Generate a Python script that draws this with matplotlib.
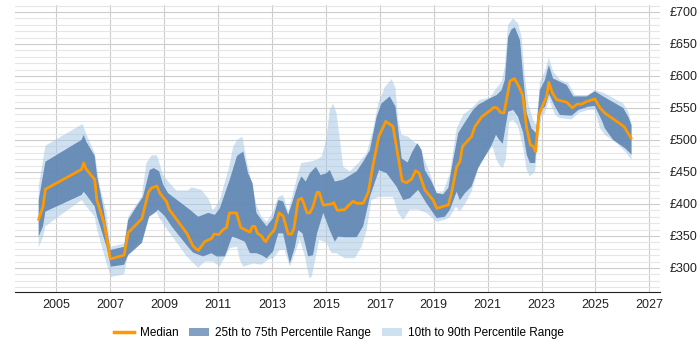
import numpy as np
import matplotlib
matplotlib.use('Agg')
import matplotlib.pyplot as plt
from matplotlib.patches import Patch
from matplotlib.lines import Line2D
from matplotlib.ticker import MultipleLocator, FuncFormatter

plt.rcParams['font.family'] = ['Liberation Sans', 'DejaVu Sans']

# median daily rate
median_years = [2004.34, 2004.50, 2004.59, 2005.93, 2006.01, 2006.09, 2006.42, 2006.50, 2006.77, 2007.00,
                2007.51, 2007.66, 2008.17, 2008.41, 2008.53, 2008.73, 2008.83, 2009.08, 2009.19, 2009.84,
                2010.07, 2010.26, 2010.50, 2010.75, 2010.85, 2011.02, 2011.16, 2011.31, 2011.42, 2011.68,
                2011.84, 2012.18, 2012.27, 2012.36, 2012.46, 2012.61, 2012.71, 2012.77, 2012.89, 2013.08,
                2013.26, 2013.41, 2013.60, 2013.72, 2013.81, 2013.97, 2014.09, 2014.15, 2014.30, 2014.40,
                2014.52, 2014.67, 2014.75, 2014.90, 2015.21, 2015.29, 2015.42, 2015.70, 2015.82, 2016.01,
                2016.14, 2016.38, 2016.57, 2016.75, 2016.96, 2017.22, 2017.49, 2017.83, 2017.99, 2018.18,
                2018.33, 2018.46, 2018.67, 2018.98, 2019.11, 2019.41, 2019.54, 2019.66, 2019.85, 2019.97,
                2020.07, 2020.40, 2020.53, 2020.78, 2021.06, 2021.24, 2021.35, 2021.48, 2021.61, 2021.83,
                2021.99, 2022.13, 2022.30, 2022.45, 2022.59, 2022.69, 2022.78, 2022.90, 2023.19, 2023.27,
                2023.41, 2023.56, 2023.93, 2024.15, 2024.32, 2024.49, 2024.67, 2024.98, 2025.17, 2025.35,
                2026.06, 2026.32]
median = [376, 396, 423, 454, 464, 455, 438, 406, 370, 314,
          320, 355, 377, 418, 425, 428, 417, 404, 391, 354,
          334, 327, 341, 346, 353, 352, 359, 363, 386, 386,
          363, 356, 365, 365, 354, 350, 343, 341, 350, 359,
          386, 381, 353, 353, 361, 406, 409, 404, 386, 386,
          396, 418, 418, 398, 400, 402, 390, 391, 397, 404,
          401, 401, 418, 461, 505, 529, 521, 436, 433, 439,
          452, 448, 422, 406, 393, 397, 398, 417, 458, 466,
          490, 505, 521, 536, 545, 551, 550, 543, 542, 592,
          596, 586, 570, 518, 492, 490, 482, 539, 568, 590,
          573, 563, 559, 550, 556, 556, 560, 564, 550, 542,
          521, 503]

# 25th percentile / 75th percentile
p75_years = [2004.34, 2004.59, 2005.93, 2006.01, 2006.11, 2006.42, 2006.51, 2006.73, 2007.00, 2007.51,
             2007.66, 2007.97, 2008.21, 2008.46, 2008.61, 2008.81, 2008.96, 2009.14, 2009.95, 2010.26,
             2010.63, 2010.88, 2011.06, 2011.43, 2011.70, 2011.93, 2012.11, 2012.28, 2012.42, 2012.61,
             2012.80, 2013.04, 2013.23, 2013.41, 2013.60, 2013.78, 2013.97, 2014.09, 2014.25, 2014.40,
             2014.63, 2014.80, 2015.02, 2015.14, 2015.33, 2015.64, 2016.14, 2016.38, 2016.63, 2016.88,
             2017.06, 2017.37, 2017.58, 2017.81, 2018.03, 2018.21, 2018.39, 2018.55, 2018.67, 2018.92,
             2019.11, 2019.35, 2019.54, 2019.72, 2019.91, 2020.09, 2020.46, 2020.65, 2021.08, 2021.33,
             2021.52, 2021.64, 2021.76, 2021.89, 2022.01, 2022.20, 2022.32, 2022.45, 2022.63, 2022.79,
             2022.94, 2023.13, 2023.27, 2023.43, 2023.68, 2023.93, 2024.18, 2024.43, 2024.67, 2024.98,
             2025.29, 2026.03, 2026.22, 2026.34]
p75 = [406, 466, 500, 508, 497, 475, 443, 396, 328, 333,
       375, 396, 411, 453, 456, 451, 430, 417, 391, 380,
       386, 383, 393, 438, 475, 482, 448, 432, 386, 375,
       365, 378, 406, 404, 383, 406, 432, 443, 435, 448,
       458, 445, 448, 453, 435, 438, 451, 466, 484, 536,
       557, 568, 552, 471, 465, 482, 495, 484, 453, 435,
       417, 415, 425, 469, 511, 523, 547, 555, 565, 570,
       578, 594, 661, 673, 676, 656, 599, 542, 518, 511,
       578, 594, 617, 596, 591, 586, 568, 568, 568, 576,
       568, 550, 536, 523]

p25_years = [2004.34, 2004.50, 2004.59, 2005.93, 2006.01, 2006.11, 2006.42, 2006.51, 2006.86, 2007.02,
             2007.51, 2007.66, 2008.17, 2008.44, 2008.65, 2008.77, 2009.02, 2009.27, 2009.88, 2010.07,
             2010.44, 2010.75, 2010.94, 2011.25, 2011.52, 2011.72, 2011.99, 2012.18, 2012.42, 2012.61,
             2012.80, 2013.04, 2013.23, 2013.41, 2013.66, 2013.85, 2013.97, 2014.13, 2014.34, 2014.52,
             2014.67, 2014.90, 2015.14, 2015.33, 2015.45, 2015.70, 2016.14, 2016.38, 2016.63, 2016.97,
             2017.25, 2017.62, 2017.87, 2018.11, 2018.42, 2018.73, 2019.11, 2019.41, 2019.60, 2019.85,
             2019.97, 2020.16, 2020.40, 2020.65, 2020.90, 2021.15, 2021.31, 2021.43, 2021.56, 2021.76,
             2021.95, 2022.13, 2022.32, 2022.45, 2022.57, 2022.76, 2022.86, 2023.00, 2023.13, 2023.28,
             2023.50, 2023.68, 2024.12, 2024.37, 2024.74, 2024.98, 2025.23, 2025.35, 2025.66, 2026.10,
             2026.34]
p25 = [349, 365, 388, 414, 419, 414, 396, 380, 333, 302,
       305, 320, 339, 380, 386, 391, 381, 365, 333, 324,
       318, 323, 318, 318, 349, 346, 341, 323, 323, 320,
       315, 326, 354, 354, 307, 333, 359, 354, 318, 320,
       354, 386, 359, 341, 349, 348, 348, 365, 411, 453,
       448, 427, 406, 409, 422, 401, 378, 380, 391, 419,
       406, 417, 427, 456, 474, 492, 508, 500, 494, 544,
       547, 536, 511, 477, 464, 464, 521, 547, 552, 572,
       552, 539, 538, 547, 552, 553, 531, 518, 500, 487,
       477]

# 10th percentile / 90th percentile
p90_years = [2004.34, 2004.59, 2005.97, 2006.09, 2006.42, 2006.61, 2006.86, 2007.00, 2007.51, 2007.66,
             2008.16, 2008.34, 2008.53, 2008.73, 2008.96, 2009.21, 2009.45, 2009.88, 2010.01, 2010.38,
             2010.63, 2010.81, 2011.06, 2011.41, 2011.56, 2011.70, 2011.90, 2012.05, 2012.24, 2012.42,
             2012.61, 2012.80, 2013.02, 2013.23, 2013.41, 2013.60, 2013.78, 2013.97, 2014.09, 2014.40,
             2014.65, 2014.84, 2015.02, 2015.14, 2015.27, 2015.39, 2015.52, 2015.64, 2015.89, 2016.20,
             2016.51, 2016.75, 2016.94, 2017.19, 2017.44, 2017.58, 2017.68, 2017.81, 2018.05, 2018.30,
             2018.49, 2018.61, 2018.86, 2019.11, 2019.35, 2019.60, 2019.85, 2020.09, 2020.46, 2020.71,
             2021.08, 2021.33, 2021.52, 2021.64, 2021.76, 2021.95, 2022.13, 2022.26, 2022.38, 2022.51,
             2022.69, 2022.82, 2022.94, 2023.13, 2023.27, 2023.43, 2023.68, 2023.99, 2024.24, 2024.73,
             2024.98, 2025.29, 2026.03, 2026.22, 2026.34]
p90 = [427, 491, 525, 511, 479, 427, 386, 333, 338, 380,
       411, 464, 476, 476, 445, 432, 421, 421, 426, 422,
       409, 390, 406, 458, 490, 500, 505, 469, 435, 398,
       380, 372, 386, 411, 414, 388, 417, 448, 464, 466,
       469, 474, 503, 547, 557, 542, 500, 458, 451, 464,
       479, 516, 557, 583, 595, 581, 531, 508, 505, 496,
       490, 474, 448, 417, 419, 448, 518, 539, 552, 563,
       566, 581, 591, 615, 680, 690, 682, 661, 599, 557,
       531, 523, 591, 607, 629, 607, 594, 589, 570, 570,
       578, 574, 557, 544, 526]

p10_years = [2004.34, 2004.50, 2004.59, 2005.93, 2006.11, 2006.42, 2006.51, 2006.86, 2007.02, 2007.51,
             2007.66, 2008.17, 2008.46, 2008.65, 2008.86, 2009.21, 2009.83, 2010.26, 2010.50, 2010.81,
             2011.06, 2011.43, 2011.70, 2011.80, 2011.93, 2012.30, 2012.61, 2012.85, 2013.04, 2013.29,
             2013.47, 2013.66, 2013.85, 2014.03, 2014.22, 2014.38, 2014.47, 2014.63, 2014.75, 2015.02,
             2015.21, 2015.39, 2015.70, 2016.07, 2016.32, 2016.51, 2016.69, 2016.94, 2017.19, 2017.49,
             2017.68, 2017.87, 2018.11, 2018.42, 2018.73, 2019.11, 2019.41, 2019.60, 2019.82, 2019.97,
             2020.16, 2020.40, 2020.71, 2020.96, 2021.18, 2021.31, 2021.43, 2021.56, 2021.67, 2021.80,
             2021.95, 2022.13, 2022.32, 2022.45, 2022.57, 2022.76, 2022.86, 2023.00, 2023.13, 2023.28,
             2023.50, 2023.68, 2024.12, 2024.37, 2024.74, 2024.98, 2025.17, 2025.35, 2025.79, 2026.10,
             2026.34]
p10 = [332, 348, 365, 406, 396, 380, 359, 307, 286, 290,
       323, 344, 386, 391, 375, 354, 318, 300, 310, 310,
       302, 331, 333, 313, 302, 307, 305, 313, 315, 328,
       328, 302, 323, 344, 318, 284, 286, 318, 344, 339,
       323, 323, 315, 315, 333, 359, 406, 411, 411, 411,
       386, 375, 391, 391, 386, 372, 375, 380, 396, 388,
       400, 419, 464, 477, 490, 471, 461, 456, 469, 529,
       531, 521, 487, 453, 443, 451, 497, 536, 542, 563,
       539, 534, 532, 542, 547, 547, 518, 508, 495, 482,
       469]

year_ticks = list(range(2005, 2028, 2))

fig = plt.figure(figsize=(7, 3.5), dpi=100)
ax = fig.add_axes([0.021, 0.165, 0.922, 0.821])


def band(ax, x_hi, y_hi, x_lo, y_lo, **kw):
    xs = np.concatenate([x_hi, x_lo[::-1]])
    ys = np.concatenate([y_hi, y_lo[::-1]])
    return ax.fill(xs, ys, **kw)


band(ax, p90_years, p90, p10_years, p10, color='#a9c9e6', alpha=0.55, lw=0, zorder=2)
band(ax, p75_years, p75, p25_years, p25, color='#5880ae', alpha=0.85, lw=0, zorder=3)
ax.plot(median_years, median, color='#ff9900', lw=2, zorder=4)

ax.set_xlim(2003.45, 2027.4)
ax.set_ylim(262, 711)
ax.set_xticks(year_ticks)
ax.yaxis.set_major_locator(MultipleLocator(50))
ax.yaxis.set_minor_locator(MultipleLocator(10))
ax.yaxis.set_major_formatter(FuncFormatter(lambda v, p: '£%d' % v))
ax.yaxis.tick_right()
ax.grid(which='major', axis='both', color='#cccccc', lw=0.8, zorder=0)
ax.grid(which='minor', axis='y', color='#e6e6e6', lw=0.8, zorder=0)
ax.set_axisbelow(True)
ax.tick_params(axis='both', which='both', length=0, labelsize=9, colors='#222222')
ax.tick_params(axis='y', pad=7)
ax.tick_params(axis='x', pad=5)
for s in ['top', 'left', 'right']:
    ax.spines[s].set_visible(False)
ax.spines['bottom'].set_color('#222222')

handles = [Line2D([], [], color='#ff9900', lw=2.5),
           Patch(facecolor='#5880ae', alpha=0.75, lw=0),
           Patch(facecolor='#a9c9e6', alpha=0.55, lw=0)]
labels = ['Median', '25th to 75th Percentile Range', '10th to 90th Percentile Range']
fig.legend(handles, labels, loc='center', bbox_to_anchor=(0.484, 0.048), ncol=3,
           frameon=False, fontsize=8.5, handlelength=1.7, columnspacing=0.9, handletextpad=0.5)

fig.savefig('out.png', dpi=100)
